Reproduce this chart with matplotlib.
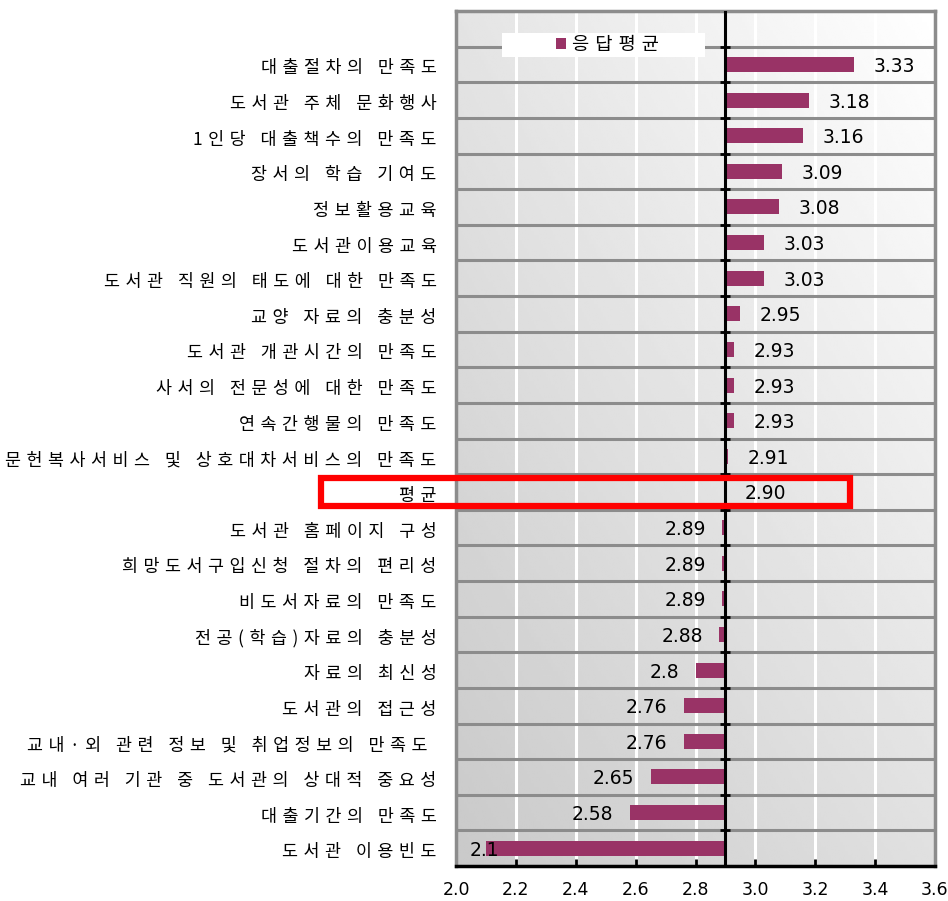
#!/usr/bin/env python3

import numpy as np
import matplotlib.pyplot as plt
import matplotlib.transforms as mtransforms
from matplotlib.patches import Rectangle

plt.rcParams['font.family'] = ['Noto Sans CJK KR', 'DejaVu Sans']

# items, top to bottom
items = [
    '대출절차의 만족도',
    '도서관 주체 문화행사',
    '1인당 대출책수의 만족도',
    '장서의 학습 기여도',
    '정보활용교육',
    '도서관이용교육',
    '도서관 직원의 태도에 대한 만족도',
    '교양 자료의 충분성',
    '도서관 개관시간의 만족도',
    '사서의 전문성에 대한 만족도',
    '연속간행물의 만족도',
    '문헌복사서비스 및 상호대차서비스의 만족도',
    '평균',
    '도서관 홈페이지 구성',
    '희망도서구입신청 절차의 편리성',
    '비도서자료의 만족도',
    '전공(학습)자료의 충분성',
    '자료의 최신성',
    '도서관의 접근성',
    '교내·외 관련 정보 및 취업정보의 만족도 ',
    '교내 여러 기관 중 도서관의 상대적 중요성',
    '대출기간의 만족도',
    '도서관 이용빈도',
]
scores = [3.33, 3.18, 3.16, 3.09, 3.08, 3.03, 3.03, 2.95, 2.93, 2.93, 2.93, 2.91,
          2.90, 2.89, 2.89, 2.89, 2.88, 2.8, 2.76, 2.76, 2.65, 2.58, 2.1]
score_text = ['3.33', '3.18', '3.16', '3.09', '3.08', '3.03', '3.03', '2.95', '2.93',
              '2.93', '2.93', '2.91', '2.90', '2.89', '2.89', '2.89', '2.88', '2.8',
              '2.76', '2.76', '2.65', '2.58', '2.1']
baseline = 2.90
highlight = '평균'
series_name = '응답평균'
xticks = [2.0, 2.2, 2.4, 2.6, 2.8, 3.0, 3.2, 3.4, 3.6]

bar_color = '#993366'
grid_gray = '#8c8c8c'


def spaced(s):
    # loose letter spacing like the original chart
    return '\u2008'.join(s)


n = len(items)
ypos = np.arange(n)[::-1]          # top item highest
scores = np.array(scores)

fig = plt.figure(figsize=(9.48, 9.01), dpi=100)
ax = fig.add_axes([456/948, 35/901, 479/948, 855/901])
nudge = mtransforms.ScaledTranslation(0, -2/100, fig.dpi_scale_trans)

xmin, xmax = xticks[0], xticks[-1]
ymin, ymax = -0.5, n + 0.5          # one spare row on top for the legend
ax.set_xlim(xmin, xmax)
ax.set_ylim(ymin, ymax)

# shaded background (dark lower-left, white upper-right)
u = np.linspace(0, 1, 200)
U, V = np.meshgrid(u, u)
shade = (201 + 23*U + 27*V + 4*U*V) / 255.0
ax.imshow(shade, extent=[xmin, xmax, ymin, ymax], origin='lower',
          cmap='gray', vmin=0, vmax=1, aspect='auto', zorder=0,
          interpolation='bilinear')

# white vertical grid, gray row separators
for xv in xticks[1:-1]:
    ax.axvline(xv, color='white', lw=2.2, zorder=1)
for k in range(1, n + 1):
    ax.axhline(k - 0.5, color=grid_gray, lw=2.2, zorder=1)

bars = ax.barh(ypos, scores - baseline, left=baseline, height=0.42,
               color=bar_color, zorder=3, label=series_name)

ax.axvline(baseline, color='black', lw=2.2, zorder=4)
ax.plot([baseline]*(n + 1), np.arange(n + 1) - 0.5, ls='none', marker='_',
        ms=7, mew=2, color='black', zorder=4, clip_on=False)

lab_kw = dict(va='center', fontsize=13.5, family='DejaVu Sans', zorder=5,
              transform=ax.transData + nudge)
for y, v, t in zip(ypos, scores, score_text):
    if v >= baseline:
        ax.text(v + 0.065, y, t, ha='left', **lab_kw)
    elif v - 0.06 - 0.16 < xmin:
        ax.text(xmin + 0.045, y, t, ha='left', **lab_kw)
    else:
        ax.text(v - 0.055, y, t, ha='right', **lab_kw)

# highlight box around the average row
hy = ypos[items.index(highlight)]
ax.add_patch(Rectangle((1.549, hy - 0.39), 3.316 - 1.549, 0.78, fill=False,
                       edgecolor='red', lw=4.5, zorder=6, clip_on=False))

ax.set_yticks(ypos)
ax.set_yticklabels([spaced(s) for s in items], fontsize=12.5)
ax.tick_params(axis='y', length=0, pad=14)
for lbl in ax.get_yticklabels():
    lbl.set_transform(lbl.get_transform() + nudge)
ax.set_xticks(xticks)
ax.set_xticklabels([f'{x:.1f}' for x in xticks], family='DejaVu Sans',
                   fontsize=12.5)
ax.tick_params(axis='x', direction='in', length=5, width=2, pad=11)

for side in ['left', 'top', 'right']:
    ax.spines[side].set_color(grid_gray)
    ax.spines[side].set_linewidth(2.5)
ax.spines['bottom'].set_color('black')
ax.spines['bottom'].set_linewidth(2.5)

# legend, sitting over the first row separator
ax.add_patch(Rectangle((2.153, 22.21), 2.831 - 2.153, 0.67, facecolor='white',
                       edgecolor='none', zorder=2))
ax.legend(handles=[bars], labels=[spaced(series_name)], loc='center',
          bbox_to_anchor=(2.505, 22.55), bbox_transform=ax.transData,
          frameon=False, fontsize=13.5, handlelength=0.55, handleheight=0.55,
          handletextpad=0.3)

fig.savefig('out.png', dpi=100)
